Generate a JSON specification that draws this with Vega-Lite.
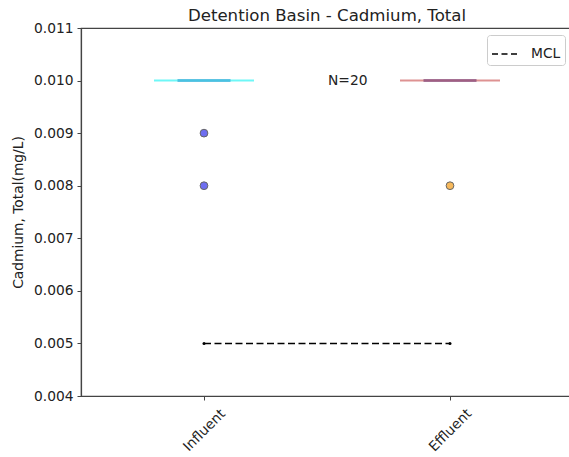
{
  "$schema": "https://vega.github.io/schema/vega-lite/v6.json",
  "autosize": {"type": "none"},
  "padding": {"left": 81, "top": 28, "right": 0, "bottom": 61},
  "width": 492,
  "height": 368,
  "background": "white",
  "title": {
    "text": "Detention Basin - Cadmium, Total",
    "font": "DejaVu Sans",
    "fontSize": 16.6,
    "fontWeight": "normal",
    "color": "#222",
    "offset": -4
  },
  "config": {
    "font": "DejaVu Sans",
    "view": {"stroke": "#444", "strokeWidth": 1.2},
    "axis": {
      "grid": false,
      "domainColor": "#444",
      "domainWidth": 1.2,
      "tickColor": "#444",
      "tickSize": 4,
      "labelFont": "DejaVu Sans",
      "labelFontSize": 13.8,
      "labelColor": "#222",
      "titleFont": "DejaVu Sans",
      "titleFontSize": 13.8,
      "titleFontWeight": "normal",
      "titleColor": "#222"
    }
  },
  "datasets": {
    "summary": [
      {"site": "Influent", "median": 0.010, "whisker": 0.010},
      {"site": "Effluent", "median": 0.010, "whisker": 0.010}
    ],
    "outliers": [
      {"site": "Influent", "value": 0.009},
      {"site": "Influent", "value": 0.008},
      {"site": "Effluent", "value": 0.008}
    ],
    "mcl": [
      {"site": "Influent", "value": 0.005, "label": "MCL"},
      {"site": "Effluent", "value": 0.005, "label": "MCL"}
    ],
    "count": [
      {"label": "N=20", "value": 0.010}
    ]
  },
  "encoding": {
    "x": {
      "field": "site",
      "type": "nominal",
      "sort": ["Influent", "Effluent"],
      "scale": {"type": "point", "padding": 0.5, "domain": ["Influent", "Effluent"]},
      "axis": {
        "title": null,
        "labelAngle": -45,
        "labelAlign": "center",
        "labelBaseline": "middle",
        "labelPadding": 30
      }
    }
  },
  "layer": [
    {
      "data": {"name": "summary"},
      "mark": {"type": "tick", "orient": "horizontal", "size": 100, "thickness": 2},
      "encoding": {
        "y": {
          "field": "whisker",
          "type": "quantitative",
          "scale": {"domain": [0.004, 0.011], "nice": false, "zero": false},
          "axis": {
            "title": "Cadmium, Total(mg/L)",
            "format": ".3f",
            "values": [0.004, 0.005, 0.006, 0.007, 0.008, 0.009, 0.010, 0.011],
            "labelPadding": 4,
            "titlePadding": 8
          }
        },
        "color": {
          "field": "site",
          "type": "nominal",
          "scale": {"domain": ["Influent", "Effluent"], "range": ["#30f4f4", "#d06464"]},
          "legend": null
        }
      }
    },
    {
      "data": {"name": "summary"},
      "mark": {"type": "tick", "orient": "horizontal", "size": 53, "thickness": 3},
      "encoding": {
        "y": {"field": "median", "type": "quantitative"},
        "fill": {
          "field": "site",
          "type": "nominal",
          "scale": {"domain": ["Influent", "Effluent"], "range": ["#38acd8", "#864a7c"]},
          "legend": null
        }
      }
    },
    {
      "data": {"name": "outliers"},
      "mark": {"type": "point", "shape": "circle", "filled": true, "size": 60, "strokeWidth": 1, "opacity": 1},
      "encoding": {
        "y": {"field": "value", "type": "quantitative"},
        "color": {
          "field": "site",
          "type": "nominal",
          "scale": {"domain": ["Influent", "Effluent"], "range": ["#6e6ef0", "#f7b95c"]},
          "legend": null
        },
        "stroke": {"value": "#666"}
      }
    },
    {
      "data": {"name": "mcl"},
      "mark": {"type": "line", "strokeDash": [7, 3.5], "strokeWidth": 1.5},
      "encoding": {
        "y": {"field": "value", "type": "quantitative"},
        "stroke": {
          "field": "label",
          "type": "nominal",
          "scale": {"domain": ["MCL"], "range": ["black"]},
          "legend": {
            "title": null,
            "orient": "none",
            "legendX": 406,
            "legendY": 7,
            "symbolType": "stroke",
            "symbolDash": [6, 3.5],
            "symbolStrokeWidth": 1.5,
            "symbolSize": 784,
            "labelFontSize": 13.8,
            "labelColor": "#222",
            "labelOffset": 10,
            "padding": 4,
            "strokeColor": "#ccc",
            "fillColor": "white",
            "cornerRadius": 3
          }
        }
      }
    },
    {
      "data": {"name": "mcl"},
      "mark": {"type": "point", "shape": "circle", "filled": true, "size": 9, "color": "black", "opacity": 1},
      "encoding": {
        "y": {"field": "value", "type": "quantitative"}
      }
    },
    {
      "data": {"name": "count"},
      "mark": {"type": "text", "align": "left", "baseline": "middle", "dx": 1, "fontSize": 13.8, "color": "#222"},
      "encoding": {
        "x": null,
        "y": {"field": "value", "type": "quantitative"},
        "text": {"field": "label"}
      }
    }
  ],
  "resolve": {"scale": {"color": "independent", "fill": "independent", "stroke": "independent"}}
}
